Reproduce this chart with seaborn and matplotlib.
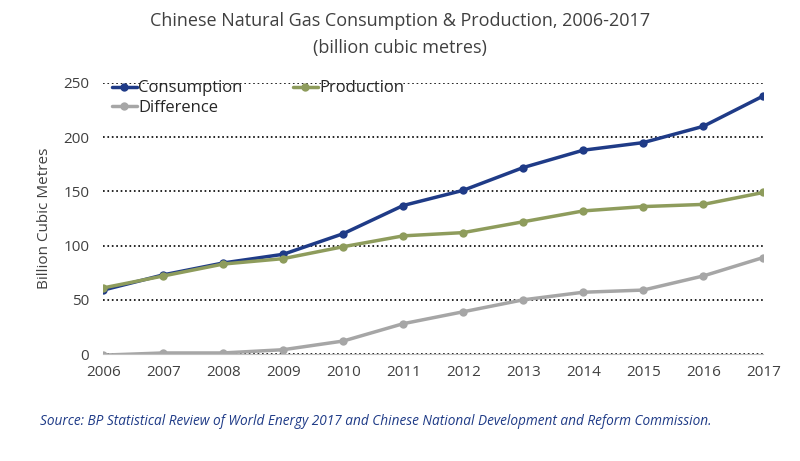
import matplotlib
matplotlib.use("Agg")
import matplotlib.pyplot as plt
import pandas as pd
import seaborn as sns

years = list(range(2006, 2018))
consumption = [59, 73, 84, 92, 111, 137, 151, 172, 188, 195, 210, 238]
production = [61, 72, 83, 88, 99, 109, 112, 122, 132, 136, 138, 149]
difference = [-1, 1, 1, 4, 12, 28, 39, 50, 57, 59, 72, 89]

df = pd.DataFrame({"year": years, "Consumption": consumption,
                   "Production": production, "Difference": difference})
long_df = df.melt(id_vars="year", var_name="series", value_name="value")

sns.set_style("white")
plt.rcParams["font.family"] = ["Open Sans", "DejaVu Sans"]

fig = plt.figure(figsize=(8, 4.61), dpi=100)
ax = fig.add_axes([0.129, 0.232, 0.825, 0.588])

palette = {"Consumption": "#1f3b87", "Production": "#8e9c5c", "Difference": "#a6a6a6"}
sns.lineplot(data=long_df, x="year", y="value", hue="series", palette=palette,
             marker="o", markersize=6, markeredgewidth=0, linewidth=2.5, ax=ax)

ax.set_xlim(2006, 2017)
ax.set_ylim(0, 250)
ax.set_xticks(years)
ax.set_yticks(range(0, 251, 50))
ax.tick_params(labelsize=11, colors="#404040", length=0)
ax.tick_params(axis="x", pad=8)
ax.tick_params(axis="y", pad=10)
ax.yaxis.grid(True, linestyle=":", color="black", linewidth=1.2)
for s in ["top", "right", "left"]:
    ax.spines[s].set_visible(False)
ax.spines["bottom"].set_color("#bfbfbf")
ax.set_xlabel("")
ax.set_ylabel("Billion Cubic Metres", fontsize=11, color="#404040", labelpad=8)

# row-major order: Consumption, Production / Difference
handles, labels = ax.get_legend_handles_labels()
lookup = dict(zip(labels, handles))
order = ["Consumption", "Difference", "Production"]
ax.legend([lookup[k] for k in order], order, loc="upper left", ncol=2,
          frameon=False, fontsize=12, columnspacing=3,
          handlelength=1.5, handletextpad=0.1, borderaxespad=0.1,
          labelspacing=0.2, bbox_to_anchor=(0.0, 1.04))

fig.text(0.5, 0.955, "Chinese Natural Gas Consumption & Production, 2006-2017",
         ha="center", va="center", fontsize=13, color="#404040")
fig.text(0.5, 0.895, "(billion cubic metres)", ha="center", va="center",
         fontsize=13, color="#404040")
fig.text(0.05, 0.085, "Source: BP Statistical Review of World Energy 2017 and Chinese "
         "National Development and Reform Commission.", ha="left", va="center",
         fontsize=9.8, style="italic", color="#1f3b87")

fig.savefig("out.png", dpi=100)
